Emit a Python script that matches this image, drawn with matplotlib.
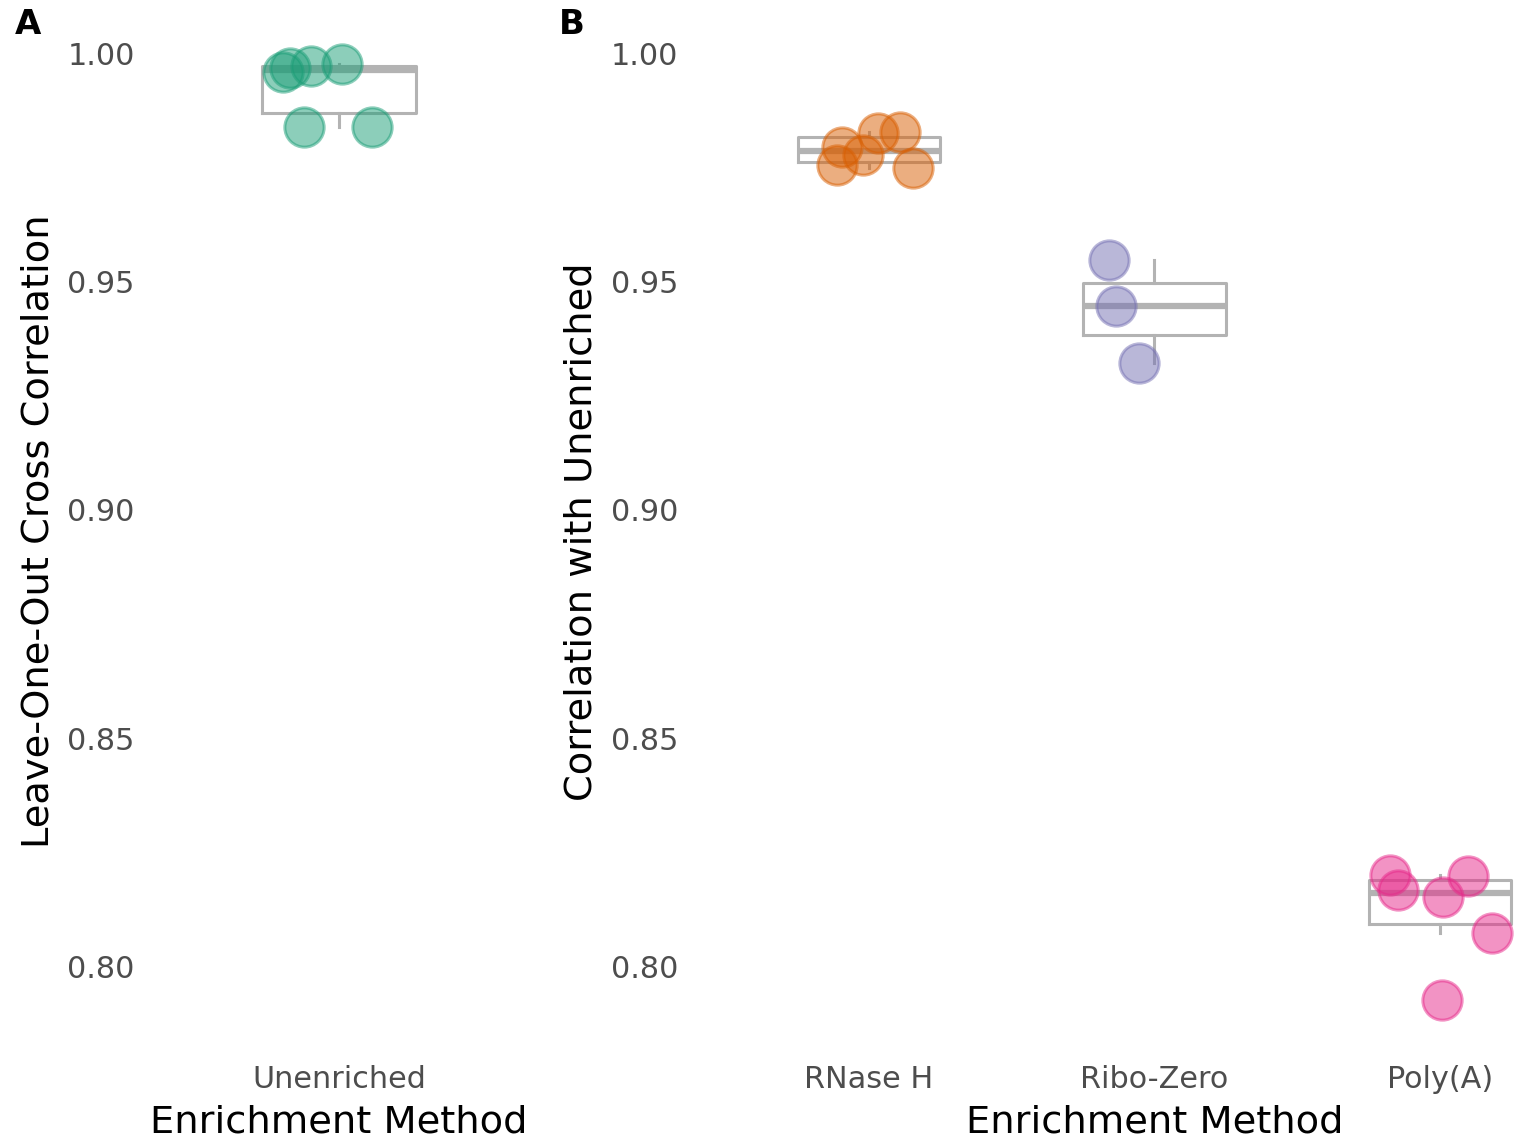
import numpy as np
import matplotlib.pyplot as plt

# data
unenriched = [0.9838, 0.9838, 0.9958, 0.9967, 0.9972, 0.9976]
rnaseh = [0.9795, 0.9755, 0.9777, 0.9824, 0.9828, 0.9748]
ribozero = [0.9547, 0.9446, 0.9321]
polya = [0.8201, 0.8168, 0.8154, 0.8199, 0.8074, 0.7928]

methods_b = ["RNase H", "Ribo-Zero", "Poly(A)"]
values_b = [rnaseh, ribozero, polya]

# horizontal jitter of each point (as drawn)
jit_a = [-0.115, 0.107, -0.18, -0.16, -0.09, 0.01]
jit_b = [[-0.096, -0.113, -0.02, 0.033, 0.109, 0.155],
         [-0.158, -0.134, -0.053],
         [-0.175, -0.146, 0.012, 0.099, 0.181, 0.006]]

colors_b = ["#D95F02", "#7570B3", "#E7298A"]
green = "#1B9E77"
box_col = "#B3B3B3"
yticks = [0.80, 0.85, 0.90, 0.95, 1.00]

fig = plt.figure(figsize=(15.28, 11.42), dpi=100)
axA = fig.add_axes([0.1008, 0.0793, 0.2421, 0.9103])
axB = fig.add_axes([0.4566, 0.0793, 0.5979, 0.9103])


def boxes(ax, data, pos):
    ax.boxplot(data, positions=pos, widths=0.5, showfliers=False,
               whis=1.5, patch_artist=False, zorder=1,
               boxprops=dict(color=box_col, linewidth=2.2),
               whiskerprops=dict(color=box_col, linewidth=2.2),
               capprops=dict(linewidth=0),
               medianprops=dict(color=box_col, linewidth=4.5))


def style(ax, ylabel):
    ax.set_ylim(0.7815, 1.009)
    ax.set_yticks(yticks)
    ax.set_yticklabels(["%.2f" % t for t in yticks])
    for s in ax.spines.values():
        s.set_visible(False)
    ax.tick_params(length=0, labelsize=21.8, labelcolor="#4D4D4D")
    ax.tick_params(axis="y", pad=14)
    ax.tick_params(axis="x", pad=10)
    ax.set_xlabel("Enrichment Method", fontsize=27.6, labelpad=7)
    ax.set_ylabel(ylabel, fontsize=27.6, labelpad=8)


# panel A
boxes(axA, [unenriched], [0])
axA.scatter(np.array(jit_a), unenriched, s=800, color=green, alpha=0.5,
            edgecolors=green, linewidths=2.2, zorder=3)
axA.set_xlim(-0.6, 0.6)
axA.set_xticks([0])
axA.set_xticklabels(["Unenriched"])
style(axA, "Leave-One-Out Cross Correlation")

# panel B
boxes(axB, values_b, [0, 1, 2])
for i, vals in enumerate(values_b):
    axB.scatter(i + np.array(jit_b[i]), vals, s=800, color=colors_b[i],
                alpha=0.5, edgecolors=colors_b[i], linewidths=2.2, zorder=3)
axB.set_xlim(-0.6, 2.6)
axB.set_xticks([0, 1, 2])
axB.set_xticklabels(methods_b)
style(axB, "Correlation with Unenriched")

fig.text(15 / 1528, 1 - 8 / 1142, "A", fontsize=24.5, fontweight="bold", va="top")
fig.text(559 / 1528, 1 - 8 / 1142, "B", fontsize=24.5, fontweight="bold", va="top")

fig.savefig("out.png", dpi=100)
